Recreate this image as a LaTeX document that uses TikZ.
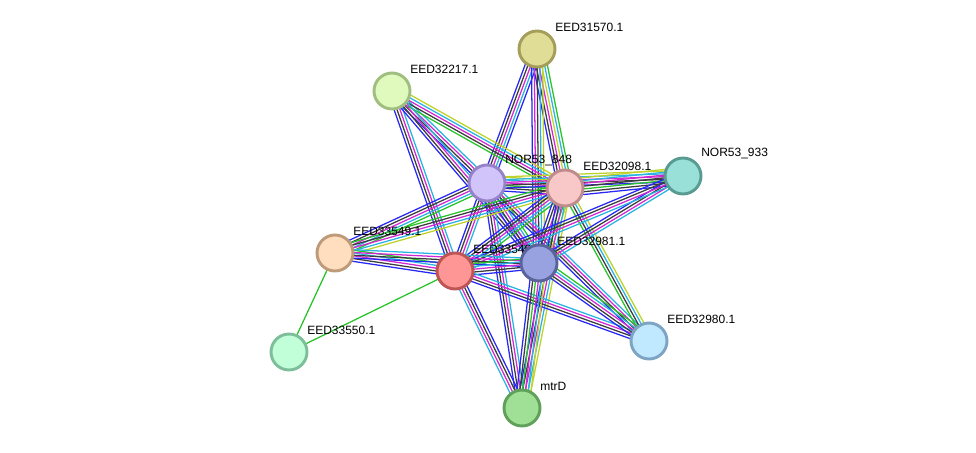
\documentclass[tikz,border=0pt]{standalone}
\usepackage{fontspec}
\setmainfont{Liberation Sans}
\usepackage{tikz}
\usetikzlibrary{calc,backgrounds}
% evidence channels
\definecolor{eblue}{RGB}{40,40,245}
\definecolor{eblack}{RGB}{60,60,60}
\definecolor{emag}{RGB}{210,40,210}
\definecolor{ecyan}{RGB}{40,180,225}
\definecolor{egreen}{RGB}{40,195,40}
\definecolor{eyel}{RGB}{190,210,40}
% protein colours
\definecolor{fA}{RGB}{224,221,150}\definecolor{bA}{RGB}{164,158,90}
\definecolor{fB}{RGB}{224,250,190}\definecolor{bB}{RGB}{160,190,128}
\definecolor{fC}{RGB}{208,196,250}\definecolor{bC}{RGB}{150,130,200}
\definecolor{fD}{RGB}{248,200,200}\definecolor{bD}{RGB}{190,140,140}
\definecolor{fE}{RGB}{152,224,216}\definecolor{bE}{RGB}{90,155,145}
\definecolor{fF}{RGB}{255,222,192}\definecolor{bF}{RGB}{190,155,120}
\definecolor{fG}{RGB}{255,150,150}\definecolor{bG}{RGB}{190,85,85}
\definecolor{fH}{RGB}{152,162,224}\definecolor{bH}{RGB}{90,100,155}
\definecolor{fI}{RGB}{192,232,255}\definecolor{bI}{RGB}{125,165,195}
\definecolor{fJ}{RGB}{192,255,216}\definecolor{bJ}{RGB}{125,190,155}
\definecolor{fK}{RGB}{160,224,150}\definecolor{bK}{RGB}{95,160,90}
% one bundle of parallel lines between two proteins
\newcommand{\strlink}[3]{%
  \foreach \col [count=\k] in {#3} {\xdef\nlinks{\k}}%
  \foreach \col [count=\k] in {#3} {
    \pgfmathsetmacro{\off}{(\k-(\nlinks+1)/2)*2.1}
    \draw[line width=0.95pt,\col] ($(#1.center)!\off pt!90:(#2.center)$) -- ($(#2.center)!\off pt!-90:(#1.center)$);
  }%
}

\begin{document}
\begin{tikzpicture}[x=0.75pt,y=-0.75pt,
  font=\fontsize{9}{10}\selectfont,
  prot/.style={circle,draw,line width=2.2pt,minimum size=27pt,inner sep=0pt},
  lbl/.style={anchor=west,inner sep=0pt},
]
\useasboundingbox (0,0) rectangle (976,453);

\node[prot,fill=fA,draw=bA] (eed31570) at (537,49) {};
\node[lbl] at ([shift={(18,-22)}]eed31570.center) {EED31570.1};
\node[prot,fill=fB,draw=bB] (eed32217) at (392,91) {};
\node[lbl] at ([shift={(18,-22)}]eed32217.center) {EED32217.1};
\node[prot,fill=fE,draw=bE] (nor933) at (683,176) {};
\node[lbl] at ([shift={(18,-22)}]nor933.center) {NOR53\_933};
\node[prot,fill=fJ,draw=bJ] (eed33550) at (289,352) {};
\node[lbl] at ([shift={(18,-22)}]eed33550.center) {EED33550.1};
\node[prot,fill=fK,draw=bK] (mtrd) at (522,408) {};
\node[lbl] at ([shift={(18,-22)}]mtrd.center) {mtrD};
\node[prot,fill=fI,draw=bI] (eed32980) at (649,341) {};
\node[lbl] at ([shift={(18,-22)}]eed32980.center) {EED32980.1};
\node[prot,fill=fF,draw=bF] (eed33549) at (335,253) {};
\node[lbl] at ([shift={(18,-22)}]eed33549.center) {EED33549.1};
\node[prot,fill=fC,draw=bC] (nor848) at (487,183) {};
\node[lbl] at ([shift={(18,-22)}]nor848.center) {NOR53\_848};
\node[prot,fill=fD,draw=bD] (eed32098) at (565,188) {};
\node[lbl] at ([shift={(18,-22)}]eed32098.center) {EED32098.1};
\node[prot,fill=fG,draw=bG] (eed33548) at (455,271) {};
\node[lbl] at ([shift={(18,-22)}]eed33548.center) {EED33548.1};
\node[prot,fill=fH,draw=bH] (eed32981) at (539,263) {};
\node[lbl] at ([shift={(18,-22)}]eed32981.center) {EED32981.1};

\begin{scope}[on background layer]
\strlink{eed31570}{nor848}{eblue,eblack,emag,ecyan,eblue}
\strlink{eed31570}{eed32098}{eblue,eblack,emag,eyel,ecyan,egreen}
\strlink{eed31570}{eed32981}{eblue,emag,eblack,ecyan,eyel}
\strlink{eed32217}{nor848}{eblue,eblack,emag,ecyan}
\strlink{eed32217}{eed32098}{egreen,eblack,emag,ecyan,eyel}
\strlink{eed32217}{eed33548}{eblue,eblack,emag,ecyan}
\strlink{eed32217}{eed32981}{eblue,eblack,emag,ecyan}
\strlink{nor848}{eed32098}{eblue,eblack,egreen,emag,ecyan,eyel}
\strlink{nor848}{nor933}{eblue,eblack,emag,ecyan,eyel}
\strlink{nor848}{eed33549}{eblue,eblack,emag,ecyan,egreen}
\strlink{nor848}{eed33548}{eblue,eblack,emag,ecyan}
\strlink{nor848}{eed32981}{eblue,eblack,emag,ecyan,egreen}
\strlink{nor848}{eed32980}{eblue,eblack,emag,ecyan}
\strlink{nor848}{mtrd}{eblue,eblack,emag,ecyan}
\strlink{eed32098}{nor933}{eblue,eblack,egreen,eblack,emag,ecyan,eyel}
\strlink{eed32098}{eed33549}{egreen,eblack,emag,ecyan,eyel}
\strlink{eed32098}{eed33548}{eblue,eblack,emag,ecyan,egreen}
\strlink{eed32098}{eed32981}{eblue,eblack,emag,ecyan,egreen,eyel}
\strlink{eed32098}{eed32980}{egreen,eblack,ecyan,eyel}
\strlink{eed32098}{mtrd}{eblue,eblack,emag,ecyan,eyel}
\strlink{nor933}{eed32981}{eblue,eblack,emag,ecyan}
\strlink{nor933}{eed33548}{eblue,eblack,emag,ecyan}
\strlink{eed33549}{eed33548}{eblue,eblack,emag,ecyan,egreen}
\strlink{eed33549}{eed32981}{eblue,eblack,emag,ecyan}
\strlink{eed33549}{eed33550}{egreen}
\strlink{eed33548}{eed33550}{egreen}
\strlink{eed33548}{eed32981}{eblue,eblack,emag,ecyan,egreen}
\strlink{eed33548}{eed32980}{eblue,eblack,emag,ecyan}
\strlink{eed33548}{mtrd}{ecyan,emag,eblack,eblue}
\strlink{eed32981}{eed32980}{eblue,eblack,emag,ecyan,egreen}
\strlink{eed32981}{mtrd}{eblue,eblack,egreen,emag,ecyan,eyel}
\end{scope}
\end{tikzpicture}
\end{document}
